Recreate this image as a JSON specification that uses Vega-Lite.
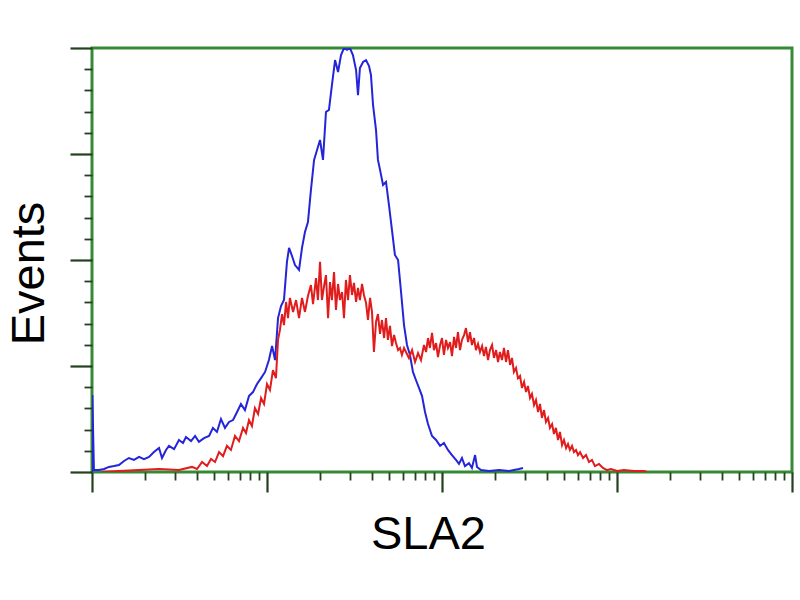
{
  "$schema": "https://vega.github.io/schema/vega-lite/v6.json",
  "width": 700,
  "height": 424,
  "autosize": "none",
  "padding": {"left": 92, "top": 48, "right": 8, "bottom": 128},
  "background": "white",
  "config": {
    "view": {"stroke": "#368a36", "strokeWidth": 3},
    "font": "Liberation Sans"
  },
  "datasets": {
    "control": [
      [0,0],[0.002,36.3],[0.011,0.9],[0.04,0.9],[0.069,1.4],[0.097,2.4],[0.126,2.8],[0.154,3.3],[0.183,5.2],[0.211,6.6],[0.24,5.7],[0.269,7.1],[0.297,6.1],[0.326,7.1],[0.354,9.4],[0.383,11.3],[0.4,6.6],[0.423,10.4],[0.44,12.3],[0.469,10.8],[0.497,15.1],[0.52,13.7],[0.537,16.5],[0.566,14.6],[0.589,17.0],[0.611,14.2],[0.64,16.0],[0.669,17.0],[0.691,20.8],[0.714,18.9],[0.737,25.0],[0.76,20.8],[0.783,23.6],[0.806,24.5],[0.829,28.3],[0.851,32.1],[0.874,29.2],[0.897,35.8],[0.92,37.7],[0.943,41.5],[0.966,44.3],[0.989,47.2],[1.011,52.8],[1.029,59.4],[1.046,52.8],[1.063,72.6],[1.08,78.3],[1.097,81.1],[1.114,99.1],[1.126,105.7],[1.143,101.9],[1.16,97.6],[1.183,95.3],[1.2,105.7],[1.217,113.2],[1.234,117.9],[1.251,133.0],[1.269,147.2],[1.286,151.9],[1.303,156.6],[1.32,147.2],[1.337,169.8],[1.354,170.8],[1.371,182.5],[1.389,194.3],[1.406,188.7],[1.423,196.7],[1.44,200],[1.457,199.1],[1.474,200],[1.491,196.7],[1.509,189.6],[1.52,177.8],[1.531,190.6],[1.549,193.4],[1.566,194.3],[1.583,191.5],[1.594,187.3],[1.606,173.1],[1.623,161.3],[1.634,147.2],[1.646,142.5],[1.663,135.4],[1.68,136.8],[1.697,125.9],[1.714,114.2],[1.731,102.4],[1.749,100.0],[1.766,84.9],[1.783,69.3],[1.8,59.9],[1.817,55.2],[1.834,47.2],[1.851,43.4],[1.869,39.6],[1.886,35.8],[1.903,28.3],[1.92,22.6],[1.943,17.0],[1.966,15.1],[1.989,12.3],[2.011,13.7],[2.034,10.4],[2.057,8.0],[2.08,5.7],[2.097,3.8],[2.114,6.6],[2.131,2.8],[2.154,4.2],[2.171,1.9],[2.189,8.0],[2.2,2.4],[2.223,0.9],[2.269,0.5],[2.326,0.9],[2.383,0.5],[2.44,1.4],[2.463,1.9]
    ],
    "sla2": [
      [0.057,0],[0.154,0.5],[0.269,0.9],[0.383,1.4],[0.497,0.9],[0.571,2.4],[0.6,1.4],[0.629,4.7],[0.657,2.8],[0.68,6.1],[0.703,4.7],[0.726,9.4],[0.749,7.5],[0.771,12.3],[0.794,10.4],[0.817,17.0],[0.84,14.6],[0.863,20.8],[0.88,18.4],[0.897,24.5],[0.914,21.7],[0.931,30.2],[0.949,27.4],[0.966,34.9],[0.983,32.1],[1.0,41.5],[1.017,38.7],[1.034,48.1],[1.051,44.3],[1.063,62.3],[1.074,67.0],[1.086,74.5],[1.097,69.3],[1.109,80.2],[1.12,72.6],[1.131,82.1],[1.149,75.5],[1.166,81.1],[1.183,72.6],[1.2,82.1],[1.217,75.5],[1.234,83.0],[1.251,88.2],[1.263,79.2],[1.28,91.5],[1.291,81.1],[1.303,99.1],[1.314,81.1],[1.326,87.7],[1.337,92.9],[1.349,72.6],[1.36,89.6],[1.371,81.1],[1.383,94.3],[1.394,76.4],[1.406,88.7],[1.417,81.1],[1.429,84.9],[1.44,72.6],[1.451,90.6],[1.463,81.1],[1.474,92.9],[1.486,83.5],[1.497,89.2],[1.509,80.2],[1.52,86.8],[1.531,81.1],[1.543,88.7],[1.554,83.5],[1.566,79.7],[1.577,71.7],[1.589,82.1],[1.6,75.5],[1.611,56.6],[1.623,70.8],[1.634,74.5],[1.646,65.1],[1.657,71.7],[1.669,63.2],[1.68,72.6],[1.691,62.3],[1.703,68.9],[1.714,59.4],[1.726,64.6],[1.737,60.8],[1.749,57.5],[1.76,58.5],[1.771,55.2],[1.783,58.5],[1.794,56.6],[1.811,53.8],[1.829,57.5],[1.846,51.9],[1.863,56.1],[1.88,52.8],[1.897,59.9],[1.909,56.6],[1.92,63.2],[1.931,58.5],[1.943,65.6],[1.954,57.5],[1.966,60.8],[1.977,54.2],[1.989,59.9],[2.0,63.2],[2.011,55.2],[2.023,62.3],[2.034,58.5],[2.046,61.3],[2.057,54.7],[2.069,63.7],[2.08,58.5],[2.091,66.0],[2.103,57.5],[2.114,62.3],[2.126,64.6],[2.137,67.9],[2.149,61.3],[2.16,66.0],[2.171,59.9],[2.183,63.2],[2.194,57.5],[2.206,60.4],[2.217,56.6],[2.229,59.4],[2.24,54.7],[2.251,59.0],[2.263,52.8],[2.274,57.5],[2.286,59.9],[2.297,53.8],[2.309,57.5],[2.32,51.9],[2.331,56.6],[2.343,52.8],[2.354,58.5],[2.366,51.9],[2.377,57.5],[2.389,50.5],[2.4,53.8],[2.411,47.2],[2.423,49.1],[2.434,44.3],[2.446,45.3],[2.457,39.6],[2.469,42.5],[2.48,37.7],[2.491,40.6],[2.503,34.9],[2.514,36.8],[2.526,31.6],[2.537,34.0],[2.549,28.3],[2.56,32.1],[2.571,25.5],[2.583,29.2],[2.594,23.6],[2.606,25.5],[2.617,20.8],[2.629,22.6],[2.64,17.9],[2.651,20.8],[2.663,15.1],[2.674,18.9],[2.686,12.7],[2.697,15.1],[2.709,11.3],[2.72,13.2],[2.731,10.4],[2.743,12.3],[2.754,9.4],[2.766,10.4],[2.777,8.0],[2.789,9.4],[2.806,6.6],[2.823,8.0],[2.84,4.7],[2.857,5.7],[2.874,2.8],[2.897,3.8],[2.92,1.9],[2.943,0.9],[2.966,1.4],[3.0,0.5],[3.04,0.9],[3.097,0.5],[3.154,0.5],[3.171,0]
    ]
  },
  "encoding": {
    "x": {
      "field": "log_intensity", "type": "quantitative",
      "scale": {"domain": [0, 4], "nice": false, "zero": false},
      "axis": {
        "title": "SLA2",
        "titleFontSize": 47, "titleFontWeight": "normal", "titleColor": "black", "titleFont": "Liberation Sans",
        "titleX": 336, "titleY": 76, "titleBaseline": "alphabetic", "titleAlign": "center", "titleAnchor": null,
        "labels": false, "grid": false, "domain": false,
        "values": [0,0.301,0.477,0.602,0.699,0.778,0.845,0.903,0.954,1,1.301,1.477,1.602,1.699,1.778,1.845,1.903,1.954,2,2.301,2.477,2.602,2.699,2.778,2.845,2.903,2.954,3,3.301,3.477,3.602,3.699,3.778,3.845,3.903,3.954,4],
        "tickColor": "#24401f",
        "tickSize": {"condition": {"test": "datum.value % 1 === 0", "value": 20}, "value": 8},
        "tickWidth": {"condition": {"test": "datum.value % 1 === 0", "value": 2.2}, "value": 1.8}
      }
    },
    "y": {
      "field": "events", "type": "quantitative",
      "scale": {"domain": [0, 200], "nice": false},
      "axis": {
        "title": "Events",
        "titleFontSize": 47, "titleFontWeight": "normal", "titleColor": "black", "titleFont": "Liberation Sans",
        "titleAngle": -90, "titleX": -49, "titleY": 225, "titleBaseline": "alphabetic", "titleAlign": "center", "titleAnchor": null,
        "labels": false, "grid": false, "domain": false,
        "values": [0,10,20,30,40,50,60,70,80,90,100,110,120,130,140,150,160,170,180,190,200],
        "tickColor": "#24401f",
        "tickSize": {"condition": {"test": "datum.value % 50 === 0", "value": 22}, "value": 8},
        "tickWidth": {"condition": {"test": "datum.value % 50 === 0", "value": 2.2}, "value": 1.8}
      }
    }
  },
  "layer": [
    {
      "data": {"name": "control"},
      "transform": [
        {"calculate": "datum[0]", "as": "log_intensity"},
        {"calculate": "datum[1]", "as": "events"}
      ],
      "mark": {"type": "line", "color": "#2424d8", "strokeWidth": 2, "clip": true}
    },
    {
      "data": {"name": "sla2"},
      "transform": [
        {"calculate": "datum[0]", "as": "log_intensity"},
        {"calculate": "datum[1]", "as": "events"}
      ],
      "mark": {"type": "line", "color": "#e01c1c", "strokeWidth": 2, "clip": true}
    }
  ]
}
